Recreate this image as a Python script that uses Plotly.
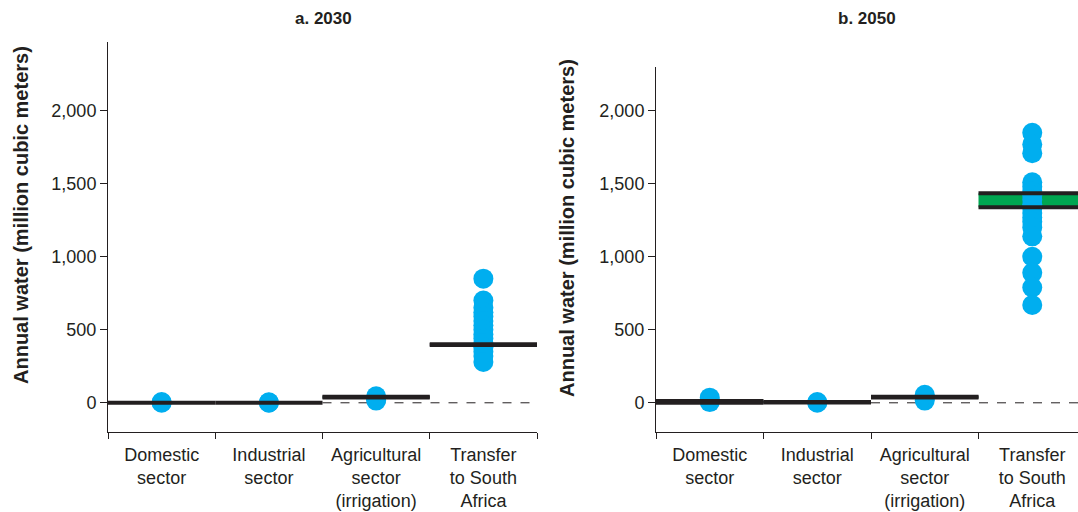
import plotly.graph_objects as go

categories = ["Domestic<br>sector", "Industrial<br>sector",
              "Agricultural<br>sector<br>(irrigation)", "Transfer<br>to South<br>Africa"]
y_ticks = [0, 500, 1000, 1500, 2000]

# scenario dots per category
dots_2030 = [
    [0, 5],
    [0, 3],
    [15, 30, 45],
    [850, 700, 650, 620, 590, 560, 530, 500, 470, 440, 410, 380, 350, 320, 280],
]
dots_2050 = [
    [5, 20, 35],
    [0, 5],
    [15, 35, 55],
    [1850, 1770, 1710, 1510, 1480, 1450, 1420, 1390, 1360, 1330, 1300, 1270,
     1240, 1200, 1140, 1000, 890, 790, 670],
]
# band (low, high) per category
band_lo_2030 = [0, 0, 36, 396]
band_hi_2030 = [0, 0, 42, 400]
band_lo_2050 = [0, 2, 36, 1340]
band_hi_2050 = [12, 5, 42, 1436]
baseline_from = 2  # dashed zero line starts at agricultural category

BLUE = "#00AEEF"
GREEN = "#00A651"
BLACK = "#231F20"
FONT = "Liberation Sans"

W, H = 1078, 512
fig = go.Figure()

panels = [
    dict(dots=dots_2030, lo=band_lo_2030, hi=band_hi_2030, xa="x", ya="y"),
    dict(dots=dots_2050, lo=band_lo_2050, hi=band_hi_2050, xa="x2", ya="y2"),
]

for p in panels:
    n = len(categories)
    # green bands
    for i in range(n):
        lo, hi = p["lo"][i], p["hi"][i]
        if hi > lo:
            fig.add_trace(go.Scatter(
                x=[i, i + 1, i + 1, i, i], y=[lo, lo, hi, hi, lo],
                fill="toself", fillcolor=GREEN, mode="lines",
                line=dict(width=0, color=GREEN), xaxis=p["xa"], yaxis=p["ya"],
                hoverinfo="skip", showlegend=False))
    # dashed baseline
    fig.add_trace(go.Scatter(
        x=[baseline_from, n], y=[0, 0], mode="lines",
        line=dict(color=BLACK, width=1, dash="dash"),
        xaxis=p["xa"], yaxis=p["ya"], showlegend=False, hoverinfo="skip"))
    # dots
    for i in range(n):
        vals = p["dots"][i]
        fig.add_trace(go.Scatter(
            x=[i + 0.5] * len(vals), y=vals, mode="markers",
            marker=dict(size=20, color=BLUE, line=dict(width=0)),
            xaxis=p["xa"], yaxis=p["ya"], showlegend=False))
    # black band edges
    for i in range(n):
        for v in {p["lo"][i], p["hi"][i]}:
            fig.add_trace(go.Scatter(
                x=[i, i + 1], y=[v, v], mode="lines",
                line=dict(color=BLACK, width=4),
                xaxis=p["xa"], yaxis=p["ya"], showlegend=False, hoverinfo="skip"))

def px_x(px):
    return px / W

def px_y(py):
    return 1 - py / H

xaxis_common = dict(
    tickvals=[i + 0.5 for i in range(len(categories))], ticktext=categories,
    ticks="outside", ticklen=6, tickcolor="rgba(0,0,0,0)",
    showline=True, linecolor=BLACK, linewidth=1, showgrid=False, zeroline=False,
    tickfont=dict(family=FONT, size=18, color=BLACK),
    minor=dict(tickvals=[0, 1, 2, 3, 4], ticks="outside", ticklen=6,
               tickcolor=BLACK, tickwidth=1, showgrid=False),
    fixedrange=True,
)
yaxis_common = dict(
    tickvals=y_ticks, tickformat=",", ticks="outside", ticklen=7,
    tickcolor=BLACK, showline=True, linecolor=BLACK, linewidth=1,
    showgrid=False, zeroline=False,
    tickfont=dict(family=FONT, size=18, color=BLACK), fixedrange=True,
)

fig.update_layout(
    width=W, height=H, margin=dict(l=0, r=0, t=0, b=0),
    paper_bgcolor="white", plot_bgcolor="white",
    xaxis=dict(xaxis_common, domain=[px_x(108), px_x(537)], range=[0, 4], anchor="y"),
    yaxis=dict(yaxis_common, domain=[px_y(432), px_y(42)], range=[-200, 2470], anchor="x"),
    xaxis2=dict(xaxis_common, domain=[px_x(656), 1.0], range=[0, (W - 656) / 107.5], anchor="y2"),
    yaxis2=dict(yaxis_common, domain=[px_y(432), px_y(67)], range=[-200, 2300], anchor="x2"),
    annotations=[
        dict(text="<b>a. 2030</b>", x=px_x(323), y=px_y(18), xref="paper", yref="paper",
             xanchor="center", yanchor="middle",
             showarrow=False, font=dict(family=FONT, size=17, color=BLACK)),
        dict(text="<b>b. 2050</b>", x=px_x(867), y=px_y(18), xref="paper", yref="paper",
             xanchor="center", yanchor="middle",
             showarrow=False, font=dict(family=FONT, size=17, color=BLACK)),
        dict(text="<b>Annual water (million cubic meters)</b>", textangle=-90,
             x=px_x(21), y=px_y(215), xref="paper", yref="paper", showarrow=False,
             xanchor="center", yanchor="middle",
             font=dict(family=FONT, size=20, color=BLACK)),
        dict(text="<b>Annual water (million cubic meters)</b>", textangle=-90,
             x=px_x(567), y=px_y(228), xref="paper", yref="paper", showarrow=False,
             xanchor="center", yanchor="middle",
             font=dict(family=FONT, size=20, color=BLACK)),
    ],
)

fig.write_html("out.html", config={"displayModeBar": False},
               post_script="document.body.style.margin='0';")
